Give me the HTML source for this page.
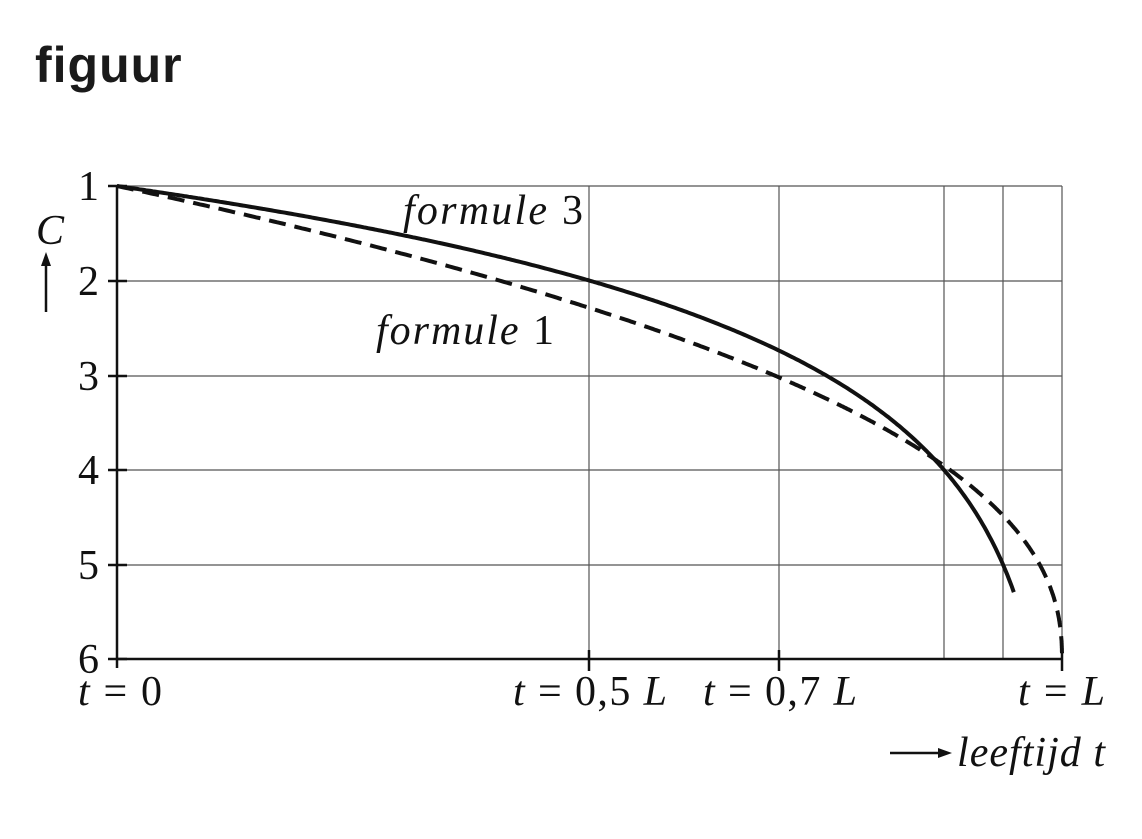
<!DOCTYPE html>
<html><head><style>
html,body{margin:0;padding:0;background:#fff;width:1142px;height:839px;overflow:hidden}
.t{position:absolute;left:35px;top:36px;font:bold 50px "Liberation Sans",sans-serif;color:#1a1a1a;letter-spacing:1px}
svg text{font-family:"Liberation Serif",serif;fill:#111}
</style></head><body>
<div class="t">figuur</div>
<svg width="1142" height="839" style="position:absolute;left:0;top:0">
<g stroke="#555" stroke-width="1.2">
<line x1="117" y1="186" x2="1062" y2="186"/>
<line x1="117" y1="281" x2="1062" y2="281"/>
<line x1="117" y1="376" x2="1062" y2="376"/>
<line x1="117" y1="470" x2="1062" y2="470"/>
<line x1="117" y1="565" x2="1062" y2="565"/>
<line x1="589" y1="186" x2="589" y2="659"/>
<line x1="779" y1="186" x2="779" y2="659"/>
<line x1="944" y1="186" x2="944" y2="659"/>
<line x1="1003" y1="186" x2="1003" y2="659"/>
<line x1="1062" y1="186" x2="1062" y2="659"/>
</g>
<g stroke="#111" stroke-width="2.5">
<line x1="117" y1="186" x2="117" y2="668"/>
<line x1="117" y1="659" x2="1063" y2="659"/>
<line x1="108" y1="186" x2="127" y2="186"/>
<line x1="108" y1="281" x2="127" y2="281"/>
<line x1="108" y1="376" x2="127" y2="376"/>
<line x1="108" y1="470" x2="127" y2="470"/>
<line x1="108" y1="565" x2="127" y2="565"/>
<line x1="108" y1="659" x2="127" y2="659"/>
<line x1="589" y1="650" x2="589" y2="671"/>
<line x1="779" y1="650" x2="779" y2="671"/>
<line x1="1062" y1="650" x2="1062" y2="671"/>
<line x1="46" y1="312" x2="46" y2="262"/>
<line x1="890" y1="753" x2="940" y2="753"/>
</g>
<polygon points="46,252 41,266 51,266" fill="#111"/>
<polygon points="952,753 938,748 938,758" fill="#111"/>
<path id="p3" fill="none" stroke="#111" stroke-width="4"/>
<path id="p1" fill="none" stroke="#111" stroke-width="4" stroke-dasharray="17,9"/>
<g font-size="42" text-anchor="end">
<text x="99" y="200">1</text><text x="99" y="295">2</text><text x="99" y="390">3</text>
<text x="99" y="484">4</text><text x="99" y="579">5</text><text x="99" y="673">6</text>
</g>
<text x="36" y="244" font-size="42" font-style="italic">C</text>
<g font-size="42">
<text x="78" y="705" textLength="84"><tspan font-style="italic">t</tspan> = 0</text>
<text x="513" y="705" textLength="154"><tspan font-style="italic">t</tspan> = 0,5 <tspan font-style="italic">L</tspan></text>
<text x="703" y="705" textLength="154"><tspan font-style="italic">t</tspan> = 0,7 <tspan font-style="italic">L</tspan></text>
<text x="1018" y="705" textLength="87"><tspan font-style="italic">t</tspan> = <tspan font-style="italic">L</tspan></text>
<text x="957" y="766" font-style="italic" textLength="148">leeftijd t</text>
<text x="403" y="224" textLength="180"><tspan font-style="italic">formule</tspan> 3</text>
<text x="376" y="344" textLength="178"><tspan font-style="italic">formule</tspan> 1</text>
</g>
</svg>
<script>
function X(t){return 117+945*t}function Y(c){return 186+94.6*(c-1)}
var d3="",d1="";
for(var i=0;i<=400;i++){var t=0.949*i/400;var c=1-Math.log(1-t)/Math.LN2;d3+=(i?"L":"M")+X(t).toFixed(1)+","+Y(c).toFixed(1);}
for(var i=0;i<=600;i++){var t=1-Math.pow(1-i/600,2);var c=6-5*Math.pow(1-t,0.43);d1+=(i?"L":"M")+X(t).toFixed(1)+","+Y(c).toFixed(1);}
document.getElementById("p3").setAttribute("d",d3);
document.getElementById("p1").setAttribute("d",d1);
</script>
</body></html>
